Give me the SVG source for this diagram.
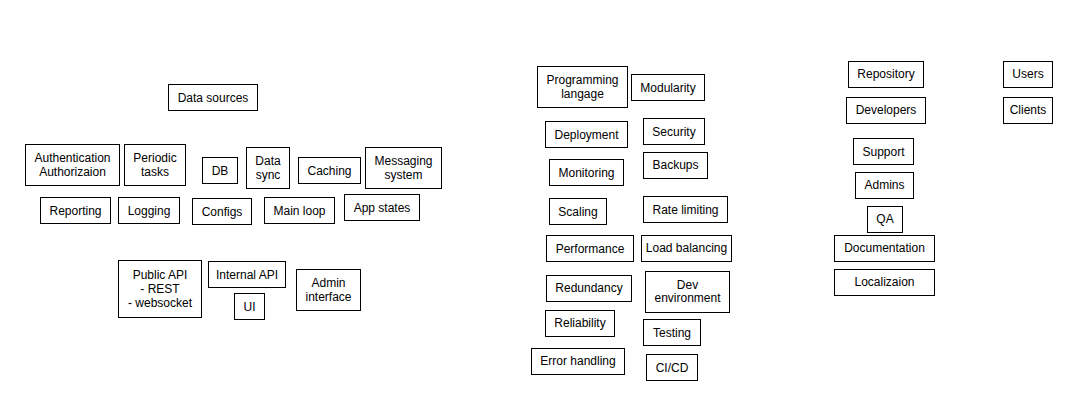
<svg xmlns="http://www.w3.org/2000/svg" width="1081" height="404" viewBox="0 0 1081 404">
<style>
rect.n{fill:#fff;stroke:#000;stroke-width:1}
text{font-family:"Liberation Sans",Arial,Helvetica,sans-serif;font-size:12px;fill:#000;text-anchor:middle;dominant-baseline:central}
</style>
<rect width="1081" height="404" fill="#fff"/>
<g id="connectors"/>
<g id="data-sources"><rect class="n" x="168.5" y="84.5" width="89" height="26"/><text x="213" y="97.5">Data sources</text></g>
<g id="auth"><rect class="n" x="25.5" y="144.5" width="94" height="41"/><text x="72.5" y="158">Authentication</text><text x="72.5" y="171.5">Authorizaion</text></g>
<g id="periodic"><rect class="n" x="124.5" y="144.5" width="61" height="41"/><text x="155" y="158">Periodic</text><text x="155" y="171.5">tasks</text></g>
<g id="db"><rect class="n" x="202.5" y="157.5" width="35" height="26"/><text x="220" y="170.5">DB</text></g>
<g id="data-sync"><rect class="n" x="246.5" y="147.5" width="43" height="41"/><text x="268" y="160.5">Data</text><text x="268" y="174.5">sync</text></g>
<g id="caching"><rect class="n" x="298.5" y="157.5" width="62" height="26"/><text x="329.5" y="170.5">Caching</text></g>
<g id="messaging"><rect class="n" x="365.5" y="147.5" width="76" height="41"/><text x="403.5" y="160.5">Messaging</text><text x="403.5" y="174.5">system</text></g>
<g id="reporting"><rect class="n" x="40.5" y="197.5" width="70" height="26"/><text x="75.5" y="210.5">Reporting</text></g>
<g id="logging"><rect class="n" x="118.5" y="197.5" width="61" height="26"/><text x="149" y="210.5">Logging</text></g>
<g id="configs"><rect class="n" x="192.5" y="198.5" width="59" height="26"/><text x="222" y="211.5">Configs</text></g>
<g id="main-loop"><rect class="n" x="264.5" y="197.5" width="70" height="26"/><text x="299.5" y="210.5">Main loop</text></g>
<g id="app-states"><rect class="n" x="344.5" y="194.5" width="75" height="26"/><text x="382" y="207.5">App states</text></g>
<g id="public-api"><rect class="n" x="118.5" y="260.5" width="83" height="57"/><text x="160" y="274.5">Public API</text><text x="160" y="288.5">- REST</text><text x="160" y="303">- websocket</text></g>
<g id="internal-api"><rect class="n" x="208.5" y="261.5" width="77" height="26"/><text x="247" y="274.5">Internal API</text></g>
<g id="ui"><rect class="n" x="234.5" y="293.5" width="30" height="26"/><text x="249.5" y="306.5">UI</text></g>
<g id="admin-interface"><rect class="n" x="296.5" y="269.5" width="64" height="41"/><text x="328.5" y="282.5">Admin</text><text x="328.5" y="296.5">interface</text></g>
<g id="programming"><rect class="n" x="537.5" y="66.5" width="90" height="41"/><text x="582.5" y="80">Programming</text><text x="582.5" y="94">langage</text></g>
<g id="modularity"><rect class="n" x="631.5" y="74.5" width="73" height="26"/><text x="668" y="87.5">Modularity</text></g>
<g id="deployment"><rect class="n" x="545.5" y="121.5" width="82" height="26"/><text x="586.5" y="134.5">Deployment</text></g>
<g id="security"><rect class="n" x="643.5" y="118.5" width="61" height="26"/><text x="674" y="131.5">Security</text></g>
<g id="monitoring"><rect class="n" x="549.5" y="159.5" width="74" height="26"/><text x="586.5" y="172.5">Monitoring</text></g>
<g id="backups"><rect class="n" x="643.5" y="152.5" width="64" height="26"/><text x="675.5" y="164.5">Backups</text></g>
<g id="scaling"><rect class="n" x="549.5" y="198.5" width="57" height="26"/><text x="578" y="211.5">Scaling</text></g>
<g id="rate-limiting"><rect class="n" x="643.5" y="196.5" width="84" height="26"/><text x="685.5" y="209.5">Rate limiting</text></g>
<g id="performance"><rect class="n" x="546.5" y="235.5" width="87" height="26"/><text x="590" y="248.5">Performance</text></g>
<g id="load-balancing"><rect class="n" x="641.5" y="235.5" width="90" height="26"/><text x="686.5" y="248">Load balancing</text></g>
<g id="redundancy"><rect class="n" x="546.5" y="275.5" width="85" height="26"/><text x="589" y="288">Redundancy</text></g>
<g id="dev-environment"><rect class="n" x="645.5" y="271.5" width="84" height="41"/><text x="687.5" y="284.5">Dev</text><text x="687.5" y="298">environment</text></g>
<g id="reliability"><rect class="n" x="545.5" y="310.5" width="69" height="26"/><text x="580" y="323">Reliability</text></g>
<g id="testing"><rect class="n" x="643.5" y="319.5" width="57" height="26"/><text x="672" y="332.5">Testing</text></g>
<g id="error-handling"><rect class="n" x="531.5" y="348.5" width="93" height="26"/><text x="578" y="361">Error handling</text></g>
<g id="cicd"><rect class="n" x="646.5" y="354.5" width="51" height="26"/><text x="672" y="367.5">CI/CD</text></g>
<g id="repository"><rect class="n" x="848.5" y="61.5" width="75" height="26"/><text x="886" y="74">Repository</text></g>
<g id="users"><rect class="n" x="1003.5" y="61.5" width="49" height="26"/><text x="1028" y="74">Users</text></g>
<g id="developers"><rect class="n" x="846.5" y="97.5" width="79" height="26"/><text x="886" y="110">Developers</text></g>
<g id="clients"><rect class="n" x="1003.5" y="97.5" width="49" height="26"/><text x="1028" y="110">Clients</text></g>
<g id="support"><rect class="n" x="853.5" y="138.5" width="60" height="26"/><text x="883.5" y="151.5">Support</text></g>
<g id="admins"><rect class="n" x="855.5" y="172.5" width="58" height="26"/><text x="884.5" y="185">Admins</text></g>
<g id="qa"><rect class="n" x="867.5" y="206.5" width="35" height="26"/><text x="885" y="218.5">QA</text></g>
<g id="documentation"><rect class="n" x="834.5" y="235.5" width="100" height="26"/><text x="884.5" y="248">Documentation</text></g>
<g id="localizaion"><rect class="n" x="834.5" y="269.5" width="100" height="26"/><text x="884.5" y="282">Localizaion</text></g>
</svg>
